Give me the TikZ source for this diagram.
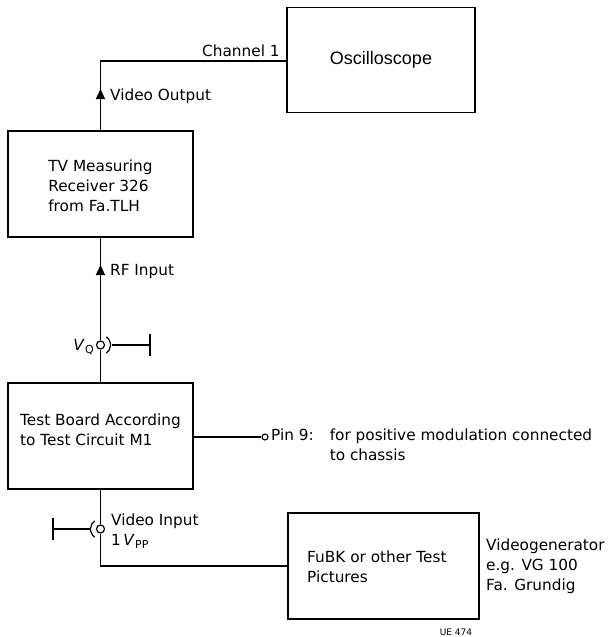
\documentclass[tikz,border=0pt]{standalone}
\usepackage{fontspec}
\setmainfont{DejaVu Sans}
\newfontfamily\helv{Liberation Sans}
\usetikzlibrary{arrows.meta}
\tikzset{
  blk/.style={draw, line width=1.6pt, rectangle, inner sep=0pt},
  wire/.style={line width=1.2pt},
  lbl/.style={inner sep=0pt, font=\fontsize{15.3}{20}\selectfont, align=left},
  jack/.style={draw, circle, line width=1.2pt, fill=white, minimum size=8pt, inner sep=0pt},
  pin/.style={draw, circle, line width=1.1pt, fill=white, minimum size=6pt, inner sep=0pt},
  upar/.style={wire, -{Triangle[length=10pt,width=9pt]}}
}
\newcommand{\Vsub}[1]{\textit{V}\kern0.3pt\raisebox{-0.35ex}{\fontsize{11}{12}\selectfont #1}}
\begin{document}
\begin{tikzpicture}[x=1pt,y=-1pt]
\useasboundingbox (0,0) rectangle (608,637);
% boxes
\node[blk, minimum width=188pt, minimum height=105pt, font=\helv\fontsize{18}{20}\selectfont] (osc) at (381,60) {Oscilloscope};
\node[blk, minimum width=185pt, minimum height=106pt] (tv) at (100.5,184) {};
\node[lbl, anchor=center] (tvt) at (100.5,186) {TV Measuring\\Receiver 326\\from Fa.TLH};
\node[blk, minimum width=185pt, minimum height=106pt] (tb) at (100.5,436) {};
\node[lbl, anchor=center] (tbt) at (100.5,430) {Test Board According\\to Test Circuit M1};
\node[blk, minimum width=191pt, minimum height=106pt] (fubk) at (383.5,566) {};
\node[lbl, anchor=west] (fubkt) at (307,567) {FuBK or other Test\\Pictures};
% jacks
\node[jack] (vq) at (100.5,345) {};
\node[jack] (vin) at (100.5,529) {};
\node[pin] (p9) at (265,437) {};
\coordinate (ch) at (100.5,61);
\coordinate (vqg) at (150,345);
\coordinate (ving) at (53,529);
\coordinate (bend) at (100.5,566);
% wires
\draw[wire] (tv.north) -- (ch) -- (ch -| osc.west);
\draw[upar] (tv.north) -- (100.5,89);
\draw[wire] (tv.south) -- (vq.north);
\draw[upar] (vq.north) -- (100.5,265);
\draw[wire] (vq.south) -- (tb.north);
\draw[wire] (vq.center) ++(-55:10) arc[start angle=-55, end angle=55, radius=10];
\draw[wire] (112,345) -- (vqg);
\draw[wire] ([yshift=-11pt]vqg) -- ([yshift=11pt]vqg);
\draw[wire] (tb.east |- p9) -- (p9.west);
\draw[wire] (tb.south) -- (vin.north);
\draw[wire] (vin.south) -- (bend) -- (fubk.west);
\draw[wire] (vin.center) ++(125:10) arc[start angle=125, end angle=235, radius=10];
\draw[wire] (90,529) -- (ving);
\draw[wire] ([yshift=-11pt]ving) -- ([yshift=11pt]ving);
% labels
\node[lbl, anchor=base west] (chl) at (202,56) {Channel 1};
\node[lbl, anchor=west] (vol) at (110,96) {Video Output};
\node[lbl, anchor=west] (rfl) at (110,272) {RF Input};
\node[lbl, anchor=east] (vql) at (94,347) {\Vsub{Q}};
\node[lbl, anchor=west] (vil) at (111,531) {Video Input\\1\,\Vsub{PP}};
\node[lbl, anchor=west] (p9l) at (271,446) {\begin{tabular}{@{}l@{\hspace{16pt}}l@{}}Pin 9:&for positive modulation connected\\&to chassis\end{tabular}};
\node[lbl, anchor=west] (vgl) at (486,566) {Videogenerator\\e.g. VG 100\\Fa. Grundig};
\node[inner sep=0pt, font=\fontsize{9}{10}\selectfont] (ue) at (456,632) {UE 474};
\end{tikzpicture}
\end{document}
